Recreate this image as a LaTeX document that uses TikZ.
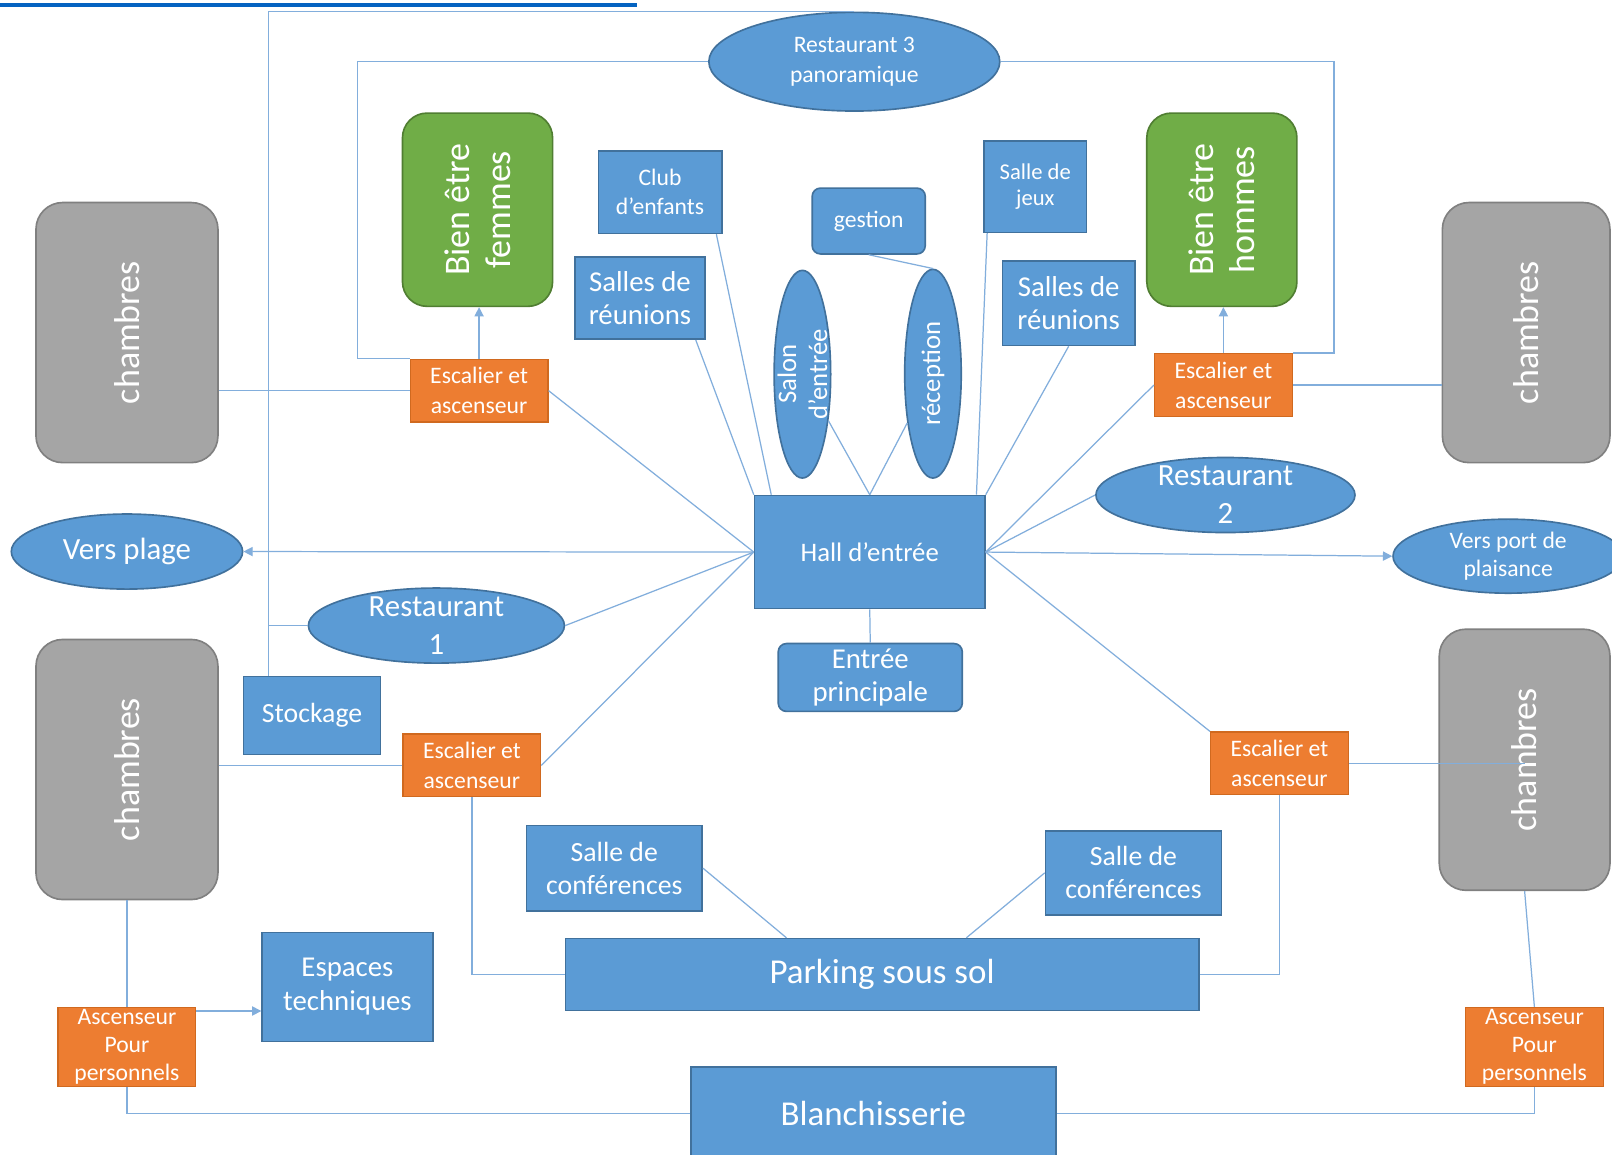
\documentclass[tikz,border=0pt]{standalone}
\usepackage{fontspec}
\setmainfont{Carlito}
\usetikzlibrary{arrows.meta,shapes.geometric}
\definecolor{oblue}{HTML}{5B9BD5}
\definecolor{oblueline}{HTML}{41719C}
\definecolor{oorange}{HTML}{ED7D31}
\definecolor{oorangeline}{HTML}{D0691F}
\definecolor{ogreen}{HTML}{70AD47}
\definecolor{ogreenline}{HTML}{507E32}
\definecolor{ogray}{HTML}{A5A5A5}
\definecolor{ograyline}{HTML}{808080}
\definecolor{wire}{HTML}{82AEDC}
\definecolor{hyperblue}{HTML}{0563C1}

\begin{document}
\begin{tikzpicture}[x=0.5pt,y=-0.5pt,
  every node/.style={text=white},
  bbox/.style={draw=oblueline,fill=oblue,line width=0.8pt,align=center,inner sep=1pt},
  rbox/.style={bbox,rounded corners=4pt},
  oval/.style={ellipse,draw=oblueline,fill=oblue,line width=0.8pt,inner sep=0pt,align=center},
  stairs/.style={draw=oorangeline,fill=oorange,line width=0.6pt,align=center,inner sep=0pt,
    font=\fontsize{11.5}{14.5}\selectfont,minimum width=67pt,minimum height=30.5pt},
  spa/.style={draw=ogreenline,fill=ogreen,line width=0.8pt,rounded corners=12pt,minimum width=73pt,minimum height=94pt},
  rooms/.style={draw=ograyline,fill=ogray,line width=0.8pt,rounded corners=13pt,minimum height=126.5pt},
  vtext/.style={rotate=90,align=center,inner sep=0pt},
  link/.style={draw=wire,line width=0.6pt},
  arr/.style={link,-{Triangle[length=4.5pt,width=4.5pt]}}]
\clip (0,0) rectangle (1568,1123);
\fill[white] (0,0) rectangle (1568,1123);
\fill[hyperblue] (0,2.5) rectangle (620,6.5);

% upper level
\node[oval,minimum width=141.5pt,minimum height=48pt,font=\fontsize{11.5}{14.5}\selectfont] (r3) at (831,60) {Restaurant 3\\panoramique};
\node[spa] (bef) at (464.5,204) {};
\node[vtext,font=\fontsize{17.5}{20}\selectfont] (beft) at (bef) {Bien être\\femmes};
\node[spa] (beh) at (1188.5,204) {};
\node[vtext,font=\fontsize{17.5}{20}\selectfont] (beht) at (beh) {Bien être\\hommes};
\node[bbox,minimum width=60pt,minimum height=40pt,font=\fontsize{11.5}{14}\selectfont] (club) at (642,187) {Club\\d’enfants};
\node[rbox,minimum width=55pt,minimum height=32pt,font=\fontsize{11.5}{14}\selectfont] (gest) at (845,215) {gestion};
\node[bbox,minimum width=50pt,minimum height=44.5pt,font=\fontsize{11}{13}\selectfont] (jeux) at (1007,181.5) {Salle de\\jeux};
\node[bbox,minimum width=63.5pt,minimum height=40pt,font=\fontsize{14}{16}\selectfont] (srL) at (622.5,290) {Salles de\\réunions};
\node[bbox,minimum width=64.5pt,minimum height=41pt,font=\fontsize{14}{16}\selectfont] (srR) at (1039.5,295) {Salles de\\réunions};
\node[oval,minimum width=27.5pt,minimum height=101pt] (salon) at (780.5,364) {};
\node[vtext,font=\fontsize{13}{15}\selectfont] (salont) at (salon) {Salon\\d’entrée};
\node[oval,minimum width=27.5pt,minimum height=101.5pt] (recep) at (907.5,363.5) {};
\node[vtext,font=\fontsize{13}{15}\selectfont] (recept) at (recep) {réception};

% chambres
\node[rooms,minimum width=88.5pt] (chTL) at (123.5,323.5) {};
\node[vtext,font=\fontsize{17.5}{20}\selectfont] (chTLt) at (chTL) {chambres};
\node[rooms,minimum width=81.5pt] (chTR) at (1484.5,323.5) {};
\node[vtext,font=\fontsize{17.5}{20}\selectfont] (chTRt) at (chTR) {chambres};
\node[rooms,minimum width=88.5pt] (chBL) at (123.5,748.5) {};
\node[vtext,font=\fontsize{17.5}{20}\selectfont] (chBLt) at (chBL) {chambres};
\node[rooms,minimum width=83pt,minimum height=127pt] (chBR) at (1483,739) {};
\node[vtext,font=\fontsize{17.5}{20}\selectfont] (chBRt) at (chBR) {chambres};

% escaliers
\node[stairs] (escTL) at (466,380) {Escalier et\\ascenseur};
\node[stairs] (escTR) at (1190,374.5) {Escalier et\\ascenseur};
\node[stairs] (escBL) at (459,744.5) {Escalier et\\ascenseur};
\node[stairs] (escBR) at (1244.5,742.5) {Escalier et\\ascenseur};

% hall level
\node[bbox,minimum width=112pt,minimum height=55pt,font=\fontsize{13}{16}\selectfont] (hall) at (846,537) {Hall d’entrée};
\node[oval,minimum width=126pt,minimum height=36.5pt] (r2) at (1192,481.5) {};
\node[align=center,inner sep=0pt,font=\fontsize{15}{18.5}\selectfont] (r2t) at (r2) {Restaurant\\2};
\node[oval,minimum width=124.5pt,minimum height=36.5pt] (r1) at (424.5,608.5) {};
\node[align=center,inner sep=0pt,font=\fontsize{15}{18.5}\selectfont] (r1t) at (r1) {Restaurant\\1};
\node[oval,minimum width=112.5pt,minimum height=36.5pt,font=\fontsize{15}{18}\selectfont] (plage) at (123.5,536.5) {Vers plage};
\node[oval,minimum width=112pt,minimum height=36pt,font=\fontsize{11.5}{14}\selectfont] (port) at (1467,541) {Vers port de\\plaisance};
\node[rbox,minimum width=89.5pt,minimum height=33pt,font=\fontsize{14}{16.5}\selectfont] (entree) at (846.5,659) {Entrée\\principale};
\node[bbox,minimum width=66.5pt,minimum height=38pt,font=\fontsize{13.5}{16}\selectfont] (stock) at (303.5,696) {Stockage};

% lower level
\node[bbox,minimum width=85.5pt,minimum height=41.5pt,font=\fontsize{13.5}{16}\selectfont] (confL) at (597.5,844.5) {Salle de\\conférences};
\node[bbox,minimum width=85.5pt,minimum height=41pt,font=\fontsize{13.5}{16}\selectfont] (confR) at (1102.5,849) {Salle de\\conférences};
\node[bbox,minimum width=83pt,minimum height=53pt,font=\fontsize{14}{16.5}\selectfont] (tech) at (338,960) {Espaces\\techniques};
\node[bbox,minimum width=308pt,minimum height=35pt,font=\fontsize{17}{20}\selectfont] (parking) at (858,948) {Parking sous sol};
\node[stairs,minimum height=38.5pt,font=\fontsize{11.5}{13.6}\selectfont] (ascL) at (123.5,1018.5) {Ascenseur\\Pour\\personnels};
\node[stairs,minimum height=38.5pt,font=\fontsize{11.5}{13.6}\selectfont] (ascR) at (1492.5,1018.5) {Ascenseur\\Pour\\personnels};
\node[bbox,minimum width=177.5pt,minimum height=45pt,font=\fontsize{17}{20}\selectfont] (blanch) at (849.5,1083) {Blanchisserie};

\coordinate (trunk) at ([xshift=12.5pt]stock.north west);
\coordinate (ascLtop) at ([yshift=-2pt]ascL.north east);

% around the hall
\draw[arr] (hall.west) -- (plage.east);
\draw[arr] (hall.east) -- (port.west);
\draw[link] (hall.west) -- (r1.east);
\draw[link] (hall.west) -- (escTL.east);
\draw[link] (hall.west) -- (escBL.east);
\draw[link] ([xshift=-5pt]srL.south east) -- (hall.north west);
\draw[link] ([xshift=-3pt]club.south east) -- ([xshift=8.5pt]hall.north west);
\draw[link] (salon) -- (hall.north);
\draw[link] (recep) -- (hall.north);
\draw[link] (gest.south) -- (recep.north);
\draw[link] ([xshift=2pt]jeux.south west) -- ([xshift=-4.5pt]hall.north east);
\draw[link] (srR.south) -- (hall.north east);
\draw[link] (escTR.west) -- (hall.east);
\draw[link] (r2.west) -- (hall.east);
\draw[link] (hall.east) -- (escBR.north west);
\draw[link] (hall.south) -- (entree.north);

% stairs and rooms
\draw[arr] (escTL.north) -- (escTL.north |- bef.south);
\draw[arr] (escTR.north) -- (escTR.north |- beh.south);
\draw[link] (escTL.west) -- (escTL.west -| chTL.east);
\draw[link] (escTR.east) -- (escTR.east -| chTR.west);
\draw[link] (escBL.west) -- (escBL.west -| chBL.east);
\draw[link] (escBR.east) -- (escBR.east -| chBR.center);
\draw[link] (r3.west) -| ([xshift=-25.5pt]escTL.north west) -- (escTL.north west);
\draw[link] (r3.east) -| ([xshift=20pt]escTR.north east) -- (escTR.north east);
\draw[link] (r3.north) -| (trunk);
\draw[link] (r1.west) -- (r1.west -| trunk);

% basement
\draw[link] (escBL.south) |- (parking.west);
\draw[link] (escBR.south) |- (parking.east);
\draw[link] (confL.east) -- ([xshift=-46.5pt]parking.north);
\draw[link] (confR.west) -- ([xshift=41pt]parking.north);
\draw[link] (chBL.south) -- (ascL.north);
\draw[link] (chBR.south) -- (ascR.north);
\draw[arr] (ascLtop) -- (ascLtop -| tech.west);
\draw[link] (ascL.south) |- (blanch.west);
\draw[link] (ascR.south) |- (blanch.east);
\end{tikzpicture}
\end{document}
